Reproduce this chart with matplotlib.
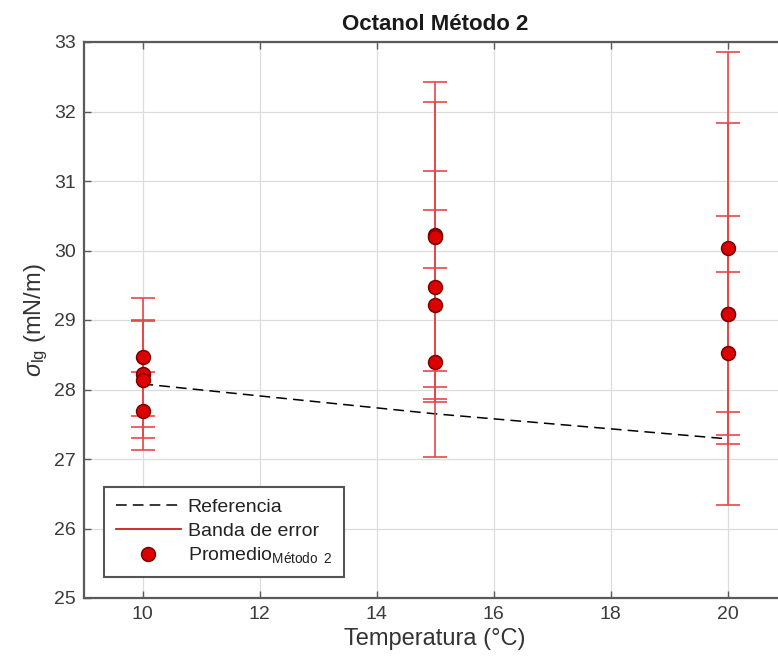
import matplotlib
matplotlib.use("Agg")
import matplotlib.pyplot as plt
from matplotlib.lines import Line2D

plt.rcParams["font.family"] = ["Liberation Sans", "DejaVu Sans"]
plt.rcParams["mathtext.fontset"] = "custom"
plt.rcParams["mathtext.rm"] = "Liberation Sans"
plt.rcParams["mathtext.it"] = "Liberation Sans:italic"
plt.rcParams["mathtext.bf"] = "Liberation Sans:bold"

# Measured mean surface tension (mN/m) and half-width of the error band per run
temp_10 = [10, 10, 10, 10]
mean_10 = [28.47, 28.23, 28.14, 27.69]
err_10 = [0.85, 0.77, 0.84, 0.56]

temp_15 = [15, 15, 15, 15, 15]
mean_15 = [30.23, 30.20, 29.48, 29.22, 28.39]
err_15 = [2.19, 1.93, 1.66, 1.36, 1.36]

temp_20 = [20, 20, 20, 20]
mean_20 = [30.04, 29.09, 29.08, 28.52]
err_20 = [2.82, 2.75, 1.41, 1.17]

# Literature reference values
ref_temp = [10, 15, 20]
ref_sigma = [28.08, 27.65, 27.29]

x_ticks = [10, 12, 14, 16, 18, 20]
y_ticks = [25, 26, 27, 28, 29, 30, 31, 32, 33]

W, H = 778, 665
fig = plt.figure(figsize=(W / 100, H / 100), dpi=100)
ax = fig.add_axes([84 / W, 1 - 598 / H, (786 - 84) / W, (598 - 42) / H])

err_color = "#e6484a"
edge_gray = "#5a5a5a"

ax.plot(ref_temp, ref_sigma, color="black", lw=1.1, dashes=(7, 4), zorder=3)

for t, m, e in [(temp_10, mean_10, err_10), (temp_15, mean_15, err_15), (temp_20, mean_20, err_20)]:
    ax.errorbar(t, m, yerr=e, fmt="none", ecolor=err_color, elinewidth=1.2,
                capsize=8.5, capthick=1.2, zorder=4)

for t, m in [(temp_10, mean_10), (temp_15, mean_15), (temp_20, mean_20)]:
    ax.plot(t, m, "o", ls="none", ms=10, mfc="#dd0000", mec="#7a0000", mew=1.1, zorder=5)

ax.set_xlim(9, 21)
ax.set_ylim(25, 33)
ax.set_xticks(x_ticks)
ax.set_yticks(y_ticks)
ax.grid(True, color="#dcdcdc", lw=0.9)
ax.set_axisbelow(True)
ax.tick_params(direction="in", length=5, width=1.0, colors=edge_gray,
               labelcolor="#3a3a3a", labelsize=14, top=True, right=True, pad=6)
for s in ax.spines.values():
    s.set_color(edge_gray)
    s.set_linewidth(1.6)

ax.set_title("Octanol Método 2", fontsize=16, fontweight="bold", color="#1a1a1a", pad=9)
ax.set_xlabel("Temperatura (°C)", fontsize=17, color="#333333", labelpad=3)
ax.set_ylabel(r"$\sigma_{\rm lg}$ (mN/m)", fontsize=17, color="#333333", labelpad=3)

handles = [
    Line2D([], [], color="black", lw=1.1, dashes=(7, 4)),
    Line2D([], [], color="#c81e1e", lw=1.3),
    Line2D([], [], marker="o", ls="none", ms=10, mfc="#dd0000", mec="#7a0000", mew=1.1),
]
labels = ["Referencia", "Banda de error", r"Promedio$_{\mathrm{Método\;\;2}}$"]
leg = ax.legend(handles, labels, loc="lower left", bbox_to_anchor=(104 / W, 1 - 577 / H),
                bbox_transform=fig.transFigure, borderaxespad=0, fontsize=14,
                fancybox=False, framealpha=1, edgecolor="#555555", handlelength=3.35,
                handletextpad=0.35, labelspacing=0.3, borderpad=0.6)
leg.get_frame().set_linewidth(1.5)
for txt in leg.get_texts():
    txt.set_color("#222222")

fig.savefig("out.png", dpi=100)
